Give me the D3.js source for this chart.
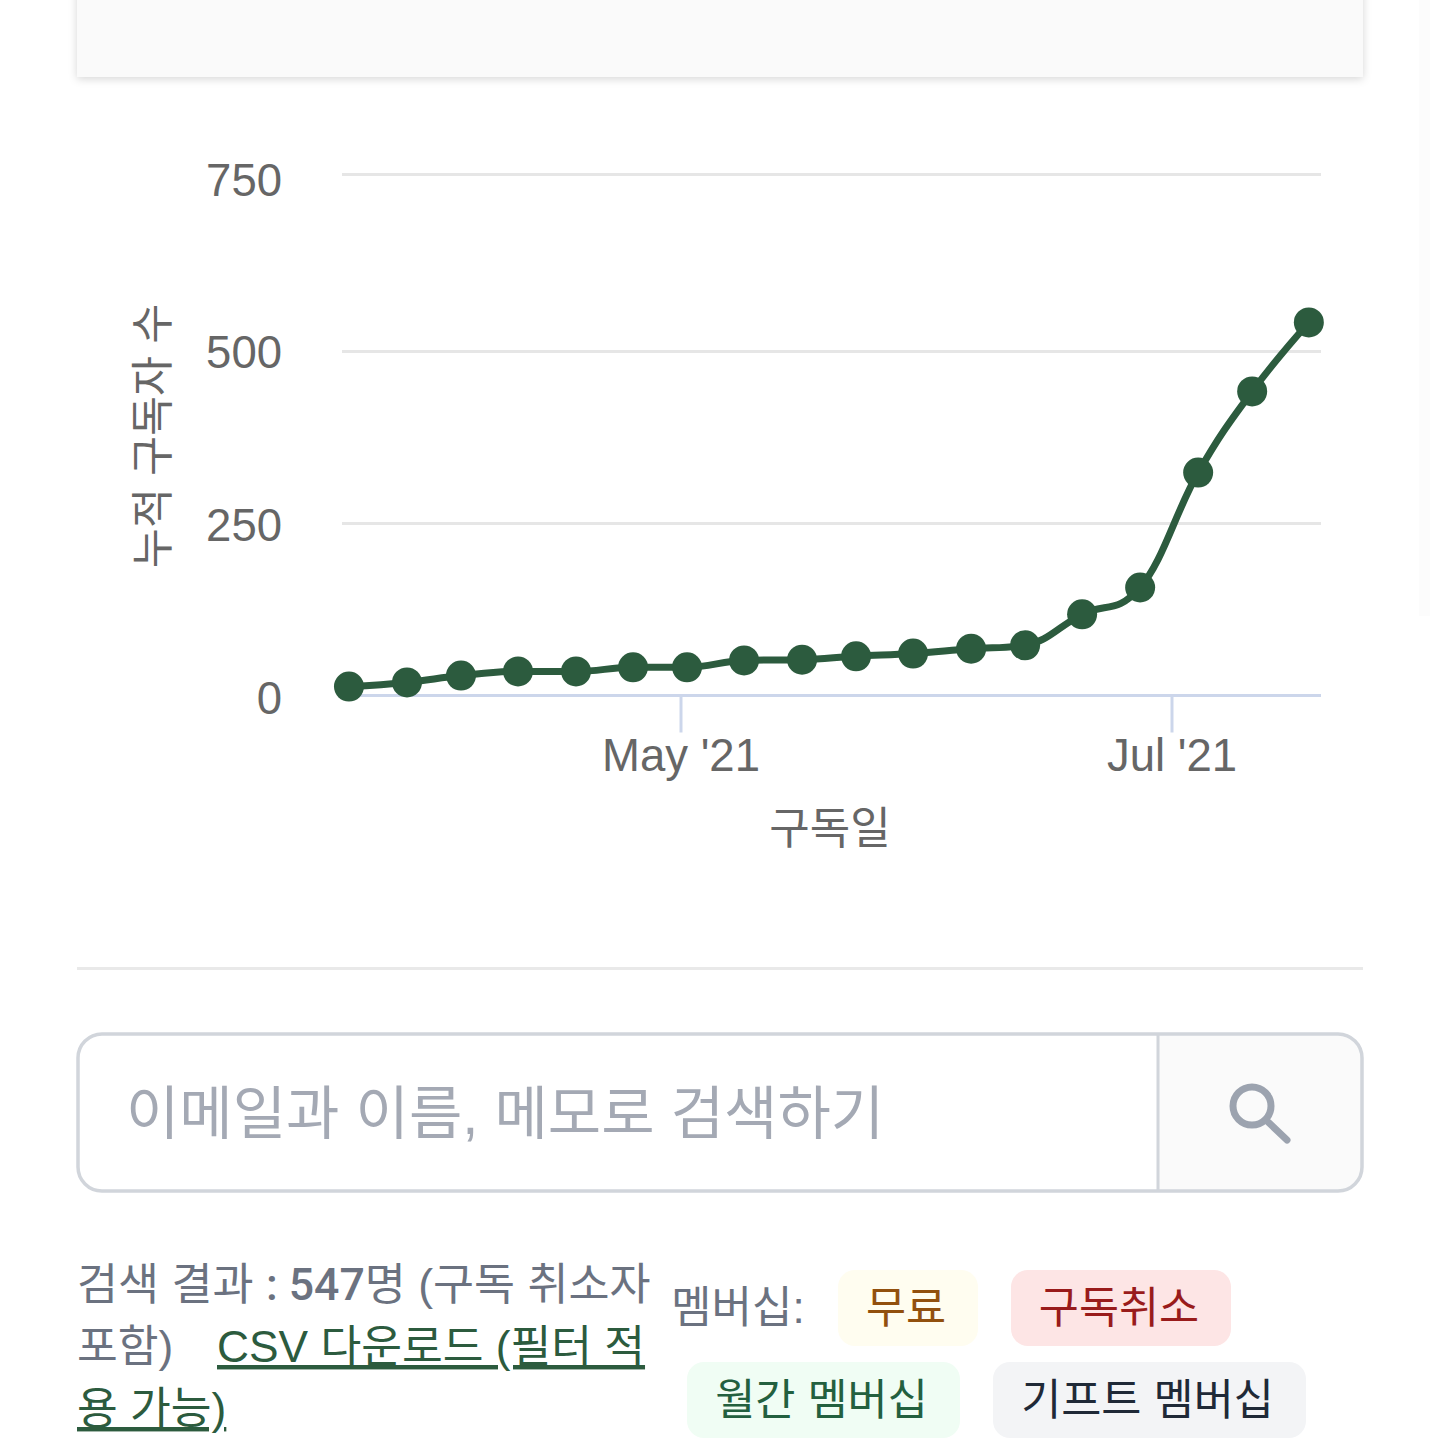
<!DOCTYPE html>
<html lang="ko">
<head>
<meta charset="utf-8">
<script src="https://cdn.jsdelivr.net/npm/d3@7"></script>
<style>
html, body { margin: 0; padding: 0; background: #fff; }
svg { display: block; }
text { font-family: "Liberation Sans", "Noto Sans CJK KR", sans-serif; }
</style>
</head>
<body>
<svg id="chart" width="1440" height="1440"></svg>
<script>
var dates = ["2021-03-20 18","2021-03-27 23","2021-04-03 16","2021-04-10 18","2021-04-17 23","2021-04-25 01","2021-05-01 18","2021-05-08 20","2021-05-16 01","2021-05-22 18","2021-05-29 20","2021-06-06 01","2021-06-12 18","2021-06-19 20","2021-06-27 01","2021-07-04 06","2021-07-10 23","2021-07-18 00"];
var subscribers = [13,19,29,35,35,41,41,51,52,57,61,68,73,118,157,324,442,541];
var yTicks = [0,250,500,750];
var xTicks = ["2021-05-01 00","2021-07-01 00"];
var xTickLabels = ["May '21","Jul '21"];

var parseDate = d3.utcParse("%Y-%m-%d %H");
var svg = d3.select("#chart");

var defs = svg.append("defs");
var blur = defs.append("filter").attr("id", "shadow").attr("x", "-5%").attr("y", "-50%").attr("width", "110%").attr("height", "200%");
blur.append("feDropShadow").attr("dx", 0).attr("dy", 2).attr("stdDeviation", 4).attr("flood-color", "#000").attr("flood-opacity", 0.16);

// top card and right edge strip
svg.append("rect").attr("x", 77).attr("y", -20).attr("width", 1286).attr("height", 97)
    .attr("fill", "#fafafa").attr("filter", "url(#shadow)");
svg.append("rect").attr("x", 1419).attr("y", 0).attr("width", 11).attr("height", 616).attr("fill", "#fcfcfc");

// chart
var x = d3.scaleUtc()
    .domain(xTicks.map(parseDate))
    .range([681, 1172]);
var y = d3.scaleLinear()
    .domain(yTicks)
    .range([695.5, 523.5, 351.5, 174.5]);
// tick labels sit evenly spaced in the picture, the grid does not quite
var yLabel = d3.scaleLinear()
    .domain([0, 750])
    .range([713.5, 195.5]);

svg.append("g").selectAll("line")
    .data(yTicks.slice(1))
    .enter().append("line")
    .attr("x1", 342).attr("x2", 1321)
    .attr("y1", function(d){ return y(d); })
    .attr("y2", function(d){ return y(d); })
    .attr("stroke", "#e6e6e6").attr("stroke-width", 3);

svg.append("line").attr("x1", 342).attr("x2", 1321).attr("y1", y(0)).attr("y2", y(0))
    .attr("stroke", "#ccd6eb").attr("stroke-width", 3);

svg.append("g").selectAll("line")
    .data(xTicks)
    .enter().append("line")
    .attr("x1", function(d){ return x(parseDate(d)); })
    .attr("x2", function(d){ return x(parseDate(d)); })
    .attr("y1", y(0)).attr("y2", y(0) + 37)
    .attr("stroke", "#ccd6eb").attr("stroke-width", 3);

svg.append("g").selectAll("text")
    .data(yTicks)
    .enter().append("text")
    .attr("x", 282)
    .attr("y", function(d){ return yLabel(d); })
    .attr("text-anchor", "end")
    .attr("font-size", 45.5)
    .attr("fill", "#666")
    .text(function(d){ return d; });

svg.append("g").selectAll("text")
    .data(xTicks)
    .enter().append("text")
    .attr("x", function(d){ return x(parseDate(d)); })
    .attr("y", 771)
    .attr("text-anchor", "middle")
    .attr("font-size", 45.5)
    .attr("fill", "#666")
    .text(function(d, i){ return xTickLabels[i]; });

svg.append("text").attr("x", 830).attr("y", 844).attr("text-anchor", "middle")
    .attr("font-size", 44).attr("fill", "#666").text("구독일");
svg.append("text").attr("transform", "translate(168,436) rotate(-90)").attr("text-anchor", "middle")
    .attr("font-size", 43.5).attr("fill", "#666").text("누적 구독자 수");

var points = dates.map(function(d, i){ return {px: x(parseDate(d)), py: y(subscribers[i])}; });

// same smoothing the chart's spline series uses: control points 1/2.5 of the way to each neighbour
function splinePath(pts) {
    var smoothing = 1.5, denom = smoothing + 1;
    var p = d3.path();
    var prevRight = null;
    pts.forEach(function(pt, i) {
        var last = pts[i - 1], next = pts[i + 1];
        var leftX = null, leftY = null, rightX = null, rightY = null;
        if (last && next) {
            leftX = (smoothing * pt.px + last.px) / denom;
            leftY = (smoothing * pt.py + last.py) / denom;
            rightX = (smoothing * pt.px + next.px) / denom;
            rightY = (smoothing * pt.py + next.py) / denom;
            var correction = (rightY - leftY) * (rightX - pt.px) / (rightX - leftX) + pt.py - rightY;
            leftY += correction;
            rightY += correction;
            if (leftY > last.py && leftY > pt.py) {
                leftY = Math.max(last.py, pt.py);
                rightY = 2 * pt.py - leftY;
            } else if (leftY < last.py && leftY < pt.py) {
                leftY = Math.min(last.py, pt.py);
                rightY = 2 * pt.py - leftY;
            }
            if (rightY > next.py && rightY > pt.py) {
                rightY = Math.max(next.py, pt.py);
                leftY = 2 * pt.py - rightY;
            } else if (rightY < next.py && rightY < pt.py) {
                rightY = Math.min(next.py, pt.py);
                leftY = 2 * pt.py - rightY;
            }
        }
        if (i == 0) {
            p.moveTo(pt.px, pt.py);
        } else {
            p.bezierCurveTo(
                prevRight ? prevRight[0] : last.px, prevRight ? prevRight[1] : last.py,
                leftX !== null ? leftX : pt.px, leftY !== null ? leftY : pt.py,
                pt.px, pt.py);
        }
        prevRight = rightX !== null ? [rightX, rightY] : null;
    });
    return p.toString();
}

svg.append("path")
    .attr("d", splinePath(points))
    .attr("fill", "none")
    .attr("stroke", "#2c5b3e")
    .attr("stroke-width", 7);

svg.append("g").selectAll("circle")
    .data(points)
    .enter().append("circle")
    .attr("cx", function(d){ return d.px; })
    .attr("cy", function(d){ return d.py; })
    .attr("r", 15)
    .attr("fill", "#2c5b3e");

// divider
svg.append("rect").attr("x", 77).attr("y", 967).attr("width", 1286).attr("height", 3).attr("fill", "#e9e9e9");

// search box
var clip = defs.append("clipPath").attr("id", "boxclip");
clip.append("rect").attr("x", 78).attr("y", 1034).attr("width", 1284).attr("height", 157).attr("rx", 24);
svg.append("rect").attr("x", 1158).attr("y", 1034).attr("width", 204).attr("height", 157)
    .attr("fill", "#fafafa").attr("clip-path", "url(#boxclip)");
svg.append("rect").attr("x", 78).attr("y", 1034).attr("width", 1284).attr("height", 157).attr("rx", 24)
    .attr("fill", "none").attr("stroke", "#d1d5db").attr("stroke-width", 3.5);
svg.append("line").attr("x1", 1158).attr("x2", 1158).attr("y1", 1034).attr("y2", 1191)
    .attr("stroke", "#d1d5db").attr("stroke-width", 3);
svg.append("text").attr("x", 126).attr("y", 1134).attr("font-size", 58).attr("fill", "#a4a9b4")
    .text("이메일과 이름, 메모로 검색하기");
svg.append("circle").attr("cx", 1252).attr("cy", 1106).attr("r", 19)
    .attr("fill", "none").attr("stroke", "#9ca3af").attr("stroke-width", 7);
svg.append("line").attr("x1", 1266).attr("y1", 1120).attr("x2", 1287).attr("y2", 1140)
    .attr("stroke", "#9ca3af").attr("stroke-width", 7).attr("stroke-linecap", "round");

// result text
var resultFill = "#6b7280", linkFill = "#2c5b3e";
var resultLine = svg.append("text").attr("x", 77).attr("y", 1300).attr("font-size", 44.6).attr("fill", resultFill);
resultLine.append("tspan").text("검색 결과 ");
resultLine.append("tspan").attr("font-family", "Roboto").attr("font-weight", 500).text(": 547");
resultLine.append("tspan").text("명 (구독 취소자");
svg.append("text").attr("x", 77).attr("y", 1362).attr("font-size", 44.3).attr("fill", resultFill).text("포함)");
svg.append("text").attr("x", 217).attr("y", 1362).attr("font-size", 44.3).attr("fill", linkFill)
    .attr("text-decoration", "underline").text("CSV 다운로드 (필터 적");
svg.append("text").attr("x", 77).attr("y", 1424).attr("font-size", 44.3).attr("fill", linkFill)
    .attr("text-decoration", "underline").text("용 가능)");

svg.append("text").attr("x", 671).attr("y", 1323).attr("font-size", 44).attr("fill", resultFill).text("멤버십:");

// badges
var badges = [
    {label: "무료", x0: 838, x1: 978, y0: 1270, bg: "#fffdf0", fg: "#92500e"},
    {label: "구독취소", x0: 1011, x1: 1231, y0: 1270, bg: "#fde5e5", fg: "#991b1b"},
    {label: "월간 멤버십", x0: 687, x1: 960, y0: 1362, bg: "#f0fdf4", fg: "#23603f"},
    {label: "기프트 멤버십", x0: 993, x1: 1306, y0: 1362, bg: "#f3f4f6", fg: "#1f2937"}
];
var badge = svg.append("g").selectAll("g").data(badges).enter().append("g");
badge.append("rect")
    .attr("x", function(d){ return d.x0; })
    .attr("y", function(d){ return d.y0; })
    .attr("width", function(d){ return d.x1 - d.x0; })
    .attr("height", 76).attr("rx", 17)
    .attr("fill", function(d){ return d.bg; });
badge.append("text")
    .attr("x", function(d){ return (d.x0 + d.x1) / 2 - 2; })
    .attr("y", function(d){ return d.y0 + 53; })
    .attr("text-anchor", "middle")
    .attr("font-size", 43.6)
    .attr("fill", function(d){ return d.fg; })
    .text(function(d){ return d.label; });
</script>
</body>
</html>
